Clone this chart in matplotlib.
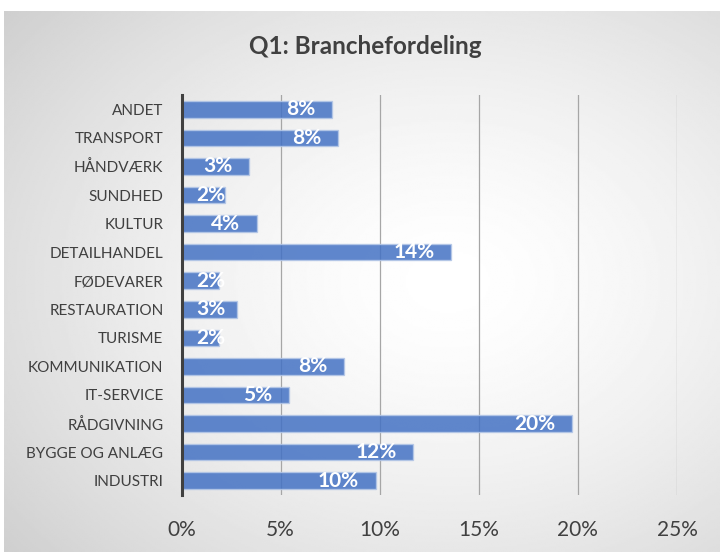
import matplotlib.pyplot as plt
import numpy as np
from matplotlib.ticker import PercentFormatter

# data, bottom to top as drawn
categories = ['INDUSTRI', 'BYGGE OG ANLÆG', 'RÅDGIVNING', 'IT-SERVICE', 'KOMMUNIKATION',
              'TURISME', 'RESTAURATION', 'FØDEVARER', 'DETAILHANDEL', 'KULTUR',
              'SUNDHED', 'HÅNDVÆRK', 'TRANSPORT', 'ANDET']
shares = [0.098, 0.117, 0.197, 0.054, 0.082, 0.019, 0.028, 0.019, 0.136, 0.038,
          0.022, 0.034, 0.079, 0.076]
x_ticks = [0, 0.05, 0.10, 0.15, 0.20, 0.25]

plt.rcParams['font.family'] = ['Lato', 'DejaVu Sans']
txt = '#404040'

fig = plt.figure(figsize=(7.2, 5.52), dpi=100, facecolor='white')

# radial gradient background of the chart area
bg = fig.add_axes([4 / 720, 0, 716 / 720, 541 / 552], zorder=-5)
gx, gy = np.meshgrid(np.linspace(0, 1, 400), np.linspace(0, 1, 300))
r = np.sqrt((gx - 0.62) ** 2 + (gy - 0.5) ** 2) / 0.8
shade = 1 - 0.19 * np.clip(r, 0, 1) ** 1.5
bg.imshow(shade, cmap='gray', vmin=0, vmax=1, extent=[0, 1, 0, 1], aspect='auto')
bg.axis('off')

ax = fig.add_axes([181.5 / 720, 1 - 495 / 552, 495.5 / 720, 400 / 552])
ax.set_facecolor('none')

y = np.arange(len(categories))
ax.barh(y, shares, height=0.58, color='#4472C4', alpha=0.85,
        edgecolor='#b4c7e7', linewidth=1, zorder=3)

# value labels inside bar end (short bars: pushed off the axis line)
for yi, v in zip(y, shares):
    label = f'{v * 100:.0f}%'
    if v < 0.03:
        ax.annotate(label, (0, yi), xytext=(10.5, 0), textcoords='offset points',
                    ha='left', va='center', color='white', fontsize=15,
                    fontweight='bold', zorder=4)
    else:
        ax.annotate(label, (v, yi), xytext=(-12, 0), textcoords='offset points',
                    ha='right', va='center', color='white', fontsize=15,
                    fontweight='bold', zorder=4)

ax.set_xlim(0, 0.25)
ax.set_ylim(-0.5, len(categories) - 0.5)
ax.set_xticks(x_ticks)
ax.xaxis.set_major_formatter(PercentFormatter(1, decimals=0))
ax.set_yticks(y)
ax.set_yticklabels(categories)
ax.tick_params(axis='x', length=0, labelsize=15, labelcolor=txt, pad=18)
ax.tick_params(axis='y', length=0, labelsize=11, labelcolor=txt, pad=13)
ax.grid(axis='x', color='#a6a6a6', linewidth=0.9, zorder=0)
for s in ['top', 'right', 'bottom']:
    ax.spines[s].set_visible(False)
ax.spines['left'].set_color('#404040')
ax.spines['left'].set_linewidth(2.2)
ax.spines['left'].set_zorder(5)

fig.text(365 / 720, 1 - 46 / 552, 'Q1: Branchefordeling', ha='center', va='center',
         fontsize=17.5, fontweight='bold', color=txt)

fig.savefig('out.png', dpi=100)
